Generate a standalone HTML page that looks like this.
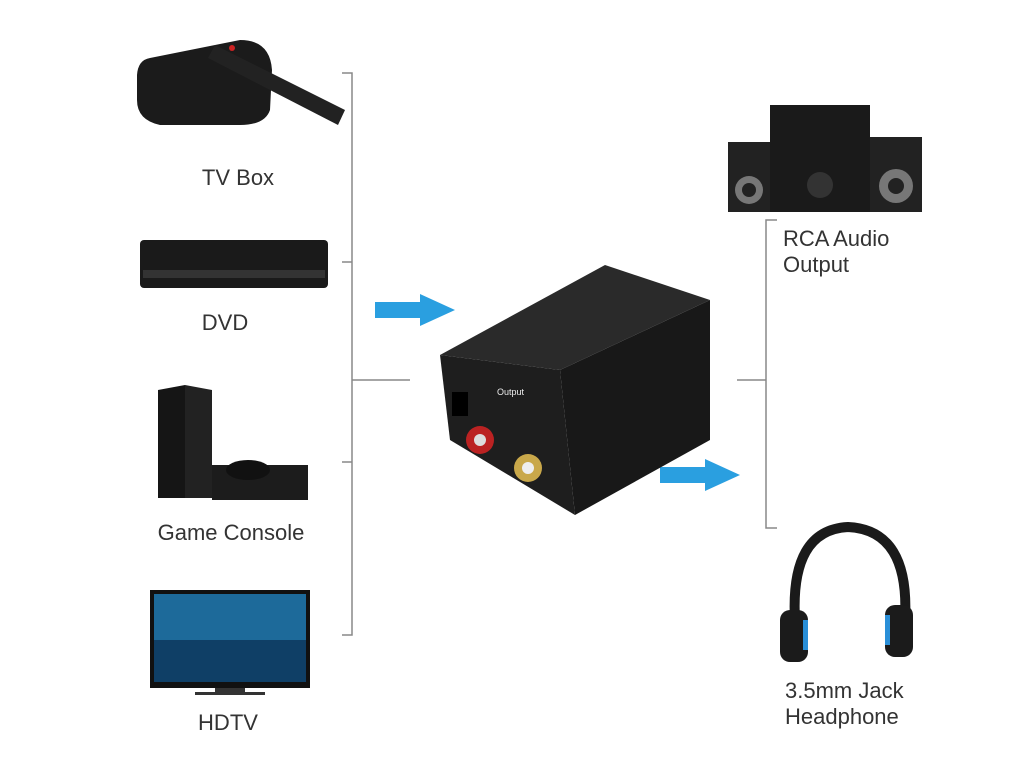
<!DOCTYPE html>
<html><head><style>
html,body{margin:0;padding:0;background:#fff;}
svg{display:block}
text{font-family:"Liberation Sans",sans-serif;fill:#333;font-size:22px}
</style></head><body>
<svg width="1024" height="780" viewBox="0 0 1024 780">
<g stroke="#888" stroke-width="1.5" fill="none">
<path d="M342 73H352V635H342M342 262H352M342 462H352M352 380H410"/>
<path d="M777 220H766V528H777M737 380H766"/>
</g>
<g fill="#2a9fe0">
<path d="M375 302H420V294L455 310L420 326V318H375Z"/>
<path d="M660 467H705V459L740 475L705 491V483H660Z"/>
</g>
<!-- TV box -->
<path d="M150 58L240 40Q270 40 272 70L270 110Q265 125 240 125L160 125Q137 120 137 100L137 75Q138 60 150 58Z" fill="#1b1b1b"/>
<path d="M215 45L345 110L338 125L208 58Z" fill="#222"/>
<circle cx="232" cy="48" r="3" fill="#c22"/>
<text x="238" y="185" text-anchor="middle">TV Box</text>
<!-- DVD -->
<rect x="140" y="240" width="188" height="48" rx="4" fill="#1a1a1a"/>
<rect x="143" y="270" width="182" height="8" fill="#333"/>
<text x="225" y="330" text-anchor="middle">DVD</text>
<!-- PS4 -->
<path d="M158 390L185 385V498H158Z" fill="#151515"/>
<path d="M185 385L212 390V498H185Z" fill="#222"/>
<rect x="212" y="465" width="96" height="35" fill="#1c1c1c"/>
<ellipse cx="248" cy="470" rx="22" ry="10" fill="#111"/>
<text x="231" y="540" text-anchor="middle">Game Console</text>
<!-- HDTV -->
<rect x="150" y="590" width="160" height="98" fill="#111"/>
<rect x="154" y="594" width="152" height="88" fill="#1d6a9a"/>
<rect x="154" y="640" width="152" height="42" fill="#0f3f66"/>
<rect x="215" y="688" width="30" height="4" fill="#333"/>
<rect x="195" y="692" width="70" height="3" fill="#333"/>
<text x="228" y="730" text-anchor="middle">HDTV</text>
<!-- speakers -->
<rect x="770" y="105" width="100" height="107" fill="#1a1a1a"/>
<rect x="728" y="142" width="42" height="70" fill="#222"/>
<rect x="870" y="137" width="52" height="75" fill="#222"/>
<circle cx="749" cy="190" r="14" fill="#777"/><circle cx="749" cy="190" r="7" fill="#222"/>
<circle cx="896" cy="186" r="17" fill="#777"/><circle cx="896" cy="186" r="8" fill="#222"/>
<circle cx="820" cy="185" r="13" fill="#333"/>
<text x="783" y="246">RCA Audio</text>
<text x="783" y="272">Output</text>
<!-- headphone -->
<path d="M795 620Q790 530 848 527Q910 530 905 620" fill="none" stroke="#1a1a1a" stroke-width="10"/>
<rect x="780" y="610" width="28" height="52" rx="10" fill="#1b1b1b"/>
<rect x="885" y="605" width="28" height="52" rx="10" fill="#1b1b1b"/>
<rect x="803" y="620" width="5" height="30" fill="#2a8fd8"/>
<rect x="885" y="615" width="5" height="30" fill="#2a8fd8"/>
<text x="785" y="698">3.5mm Jack</text>
<text x="785" y="724">Headphone</text>
<!-- converter -->
<path d="M440 355L605 265L710 300L560 370Z" fill="#2a2a2a"/>
<path d="M440 355L560 370L575 515L450 440Z" fill="#1e1e1e"/>
<path d="M560 370L710 300L710 440L575 515Z" fill="#181818"/>
<circle cx="480" cy="440" r="14" fill="#b22"/><circle cx="480" cy="440" r="6" fill="#ddd"/>
<circle cx="528" cy="468" r="14" fill="#c9a84a"/><circle cx="528" cy="468" r="6" fill="#eee"/>
<rect x="452" y="392" width="16" height="24" fill="#000"/>
<text x="497" y="395" style="font-size:9px;fill:#eee">Output</text>
</svg>
</body></html>
